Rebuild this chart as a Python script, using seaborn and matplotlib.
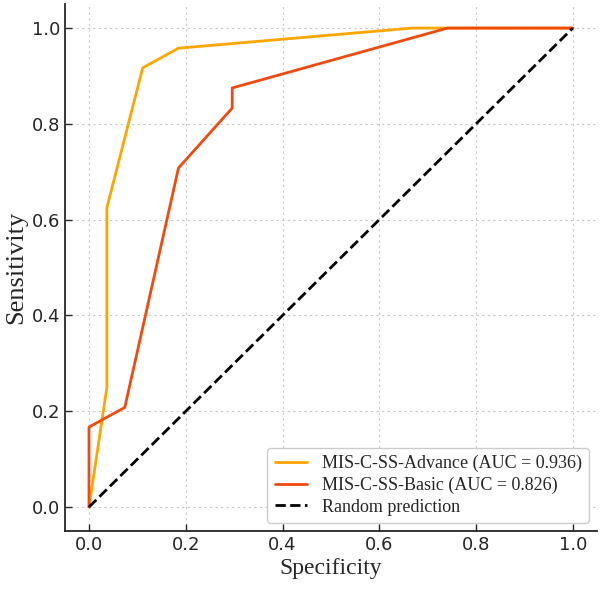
import numpy as np
import pandas as pd
import seaborn as sns
import matplotlib.pyplot as plt

# ROC points
adv_fpr = [0.0, 0.037, 0.037, 0.111, 0.185, 0.667, 1.0]
adv_tpr = [0.0, 0.25, 0.625, 0.917, 0.958, 1.0, 1.0]
basic_fpr = [0.0, 0.0, 0.074, 0.185, 0.296, 0.296, 0.741, 1.0]
basic_tpr = [0.0, 0.167, 0.208, 0.708, 0.833, 0.875, 1.0, 1.0]
rand_x = [0.0, 1.0]
rand_y = [0.0, 1.0]
labels = ['MIS-C-SS-Advance (AUC = 0.936)', 'MIS-C-SS-Basic (AUC = 0.826)', 'Random prediction']
ticks = [0.0, 0.2, 0.4, 0.6, 0.8, 1.0]

sns.set_style('ticks')
plt.rcParams['font.family'] = ['DejaVu Sans']

fig = plt.figure(figsize=(6.0, 5.91), dpi=100)
ax = fig.add_axes([0.108, 0.1015, 0.887, 0.8915])

adv = pd.DataFrame({'x': adv_fpr, 'y': adv_tpr})
basic = pd.DataFrame({'x': basic_fpr, 'y': basic_tpr})
rnd = pd.DataFrame({'x': rand_x, 'y': rand_y})

sns.lineplot(data=adv, x='x', y='y', sort=False, estimator=None, color='#FFA500', lw=2, label=labels[0], ax=ax)
sns.lineplot(data=basic, x='x', y='y', sort=False, estimator=None, color='#F24A0E', lw=2, label=labels[1], ax=ax)
sns.lineplot(data=rnd, x='x', y='y', sort=False, estimator=None, color='black', lw=2, ls='--', label=labels[2], ax=ax)

ax.set_xlim(-0.05, 1.05)
ax.set_ylim(-0.05, 1.05)
ax.set_xticks(ticks)
ax.set_yticks(ticks)
ax.tick_params(direction='in', labelsize=13, length=5, width=1)
ax.grid(True, ls=(0, (2, 3)), color='#c8c8c8', lw=0.8)
for s in ['top', 'right']:
    ax.spines[s].set_visible(False)
for s in ['left', 'bottom']:
    ax.spines[s].set_linewidth(1.3)

ax.set_xlabel('Specificity', family='Liberation Serif', fontsize=17, labelpad=3)
ax.set_ylabel('Sensitivity', family='Liberation Serif', fontsize=19, labelpad=3)
ax.legend(loc='lower right', prop={'family': 'Liberation Serif', 'size': 13}, frameon=True, framealpha=1,
          edgecolor='#cccccc', borderaxespad=0.45, labelspacing=0.25, handlelength=1.8)

fig.savefig('out.png', dpi=100)
